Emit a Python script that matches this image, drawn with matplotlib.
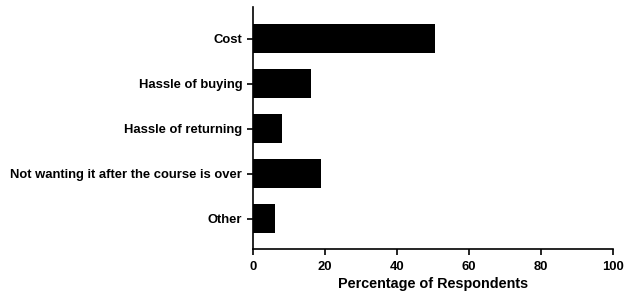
import matplotlib.pyplot as plt

plt.rcParams['font.family'] = ['Liberation Sans', 'DejaVu Sans']
plt.rcParams['font.weight'] = 'bold'

# Reasons and share of respondents (%)
reasons = ['Cost', 'Hassle of buying', 'Hassle of returning',
           'Not wanting it after the course is over', 'Other']
percentages = [50.6, 16.2, 8.2, 18.9, 6.3]
x_ticks = [0, 20, 40, 60, 80, 100]

fig = plt.figure(figsize=(6.3, 2.98), dpi=100)
ax = fig.add_axes([0.401, 0.164, 0.572, 0.812])

ax.barh(range(len(reasons)), percentages, height=0.65, color='black')

ax.set_yticks(range(len(reasons)))
ax.set_yticklabels(reasons, fontsize=9.4, fontweight='bold')
ax.set_ylim(len(reasons) - 0.32, -0.7)

ax.set_xlim(0, 100)
ax.set_xticks(x_ticks)
ax.set_xticklabels([str(t) for t in x_ticks], fontsize=9.4, fontweight='bold')
ax.set_xlabel('Percentage of Respondents', fontsize=10.4, fontweight='bold', labelpad=3)

for side in ['top', 'right']:
    ax.spines[side].set_visible(False)
for side in ['left', 'bottom']:
    ax.spines[side].set_linewidth(1.2)
ax.tick_params(axis='y', width=1.2, length=4.5, pad=3)
ax.tick_params(axis='x', width=1.2, length=4.5, pad=4)

fig.savefig('out.png', dpi=100)
